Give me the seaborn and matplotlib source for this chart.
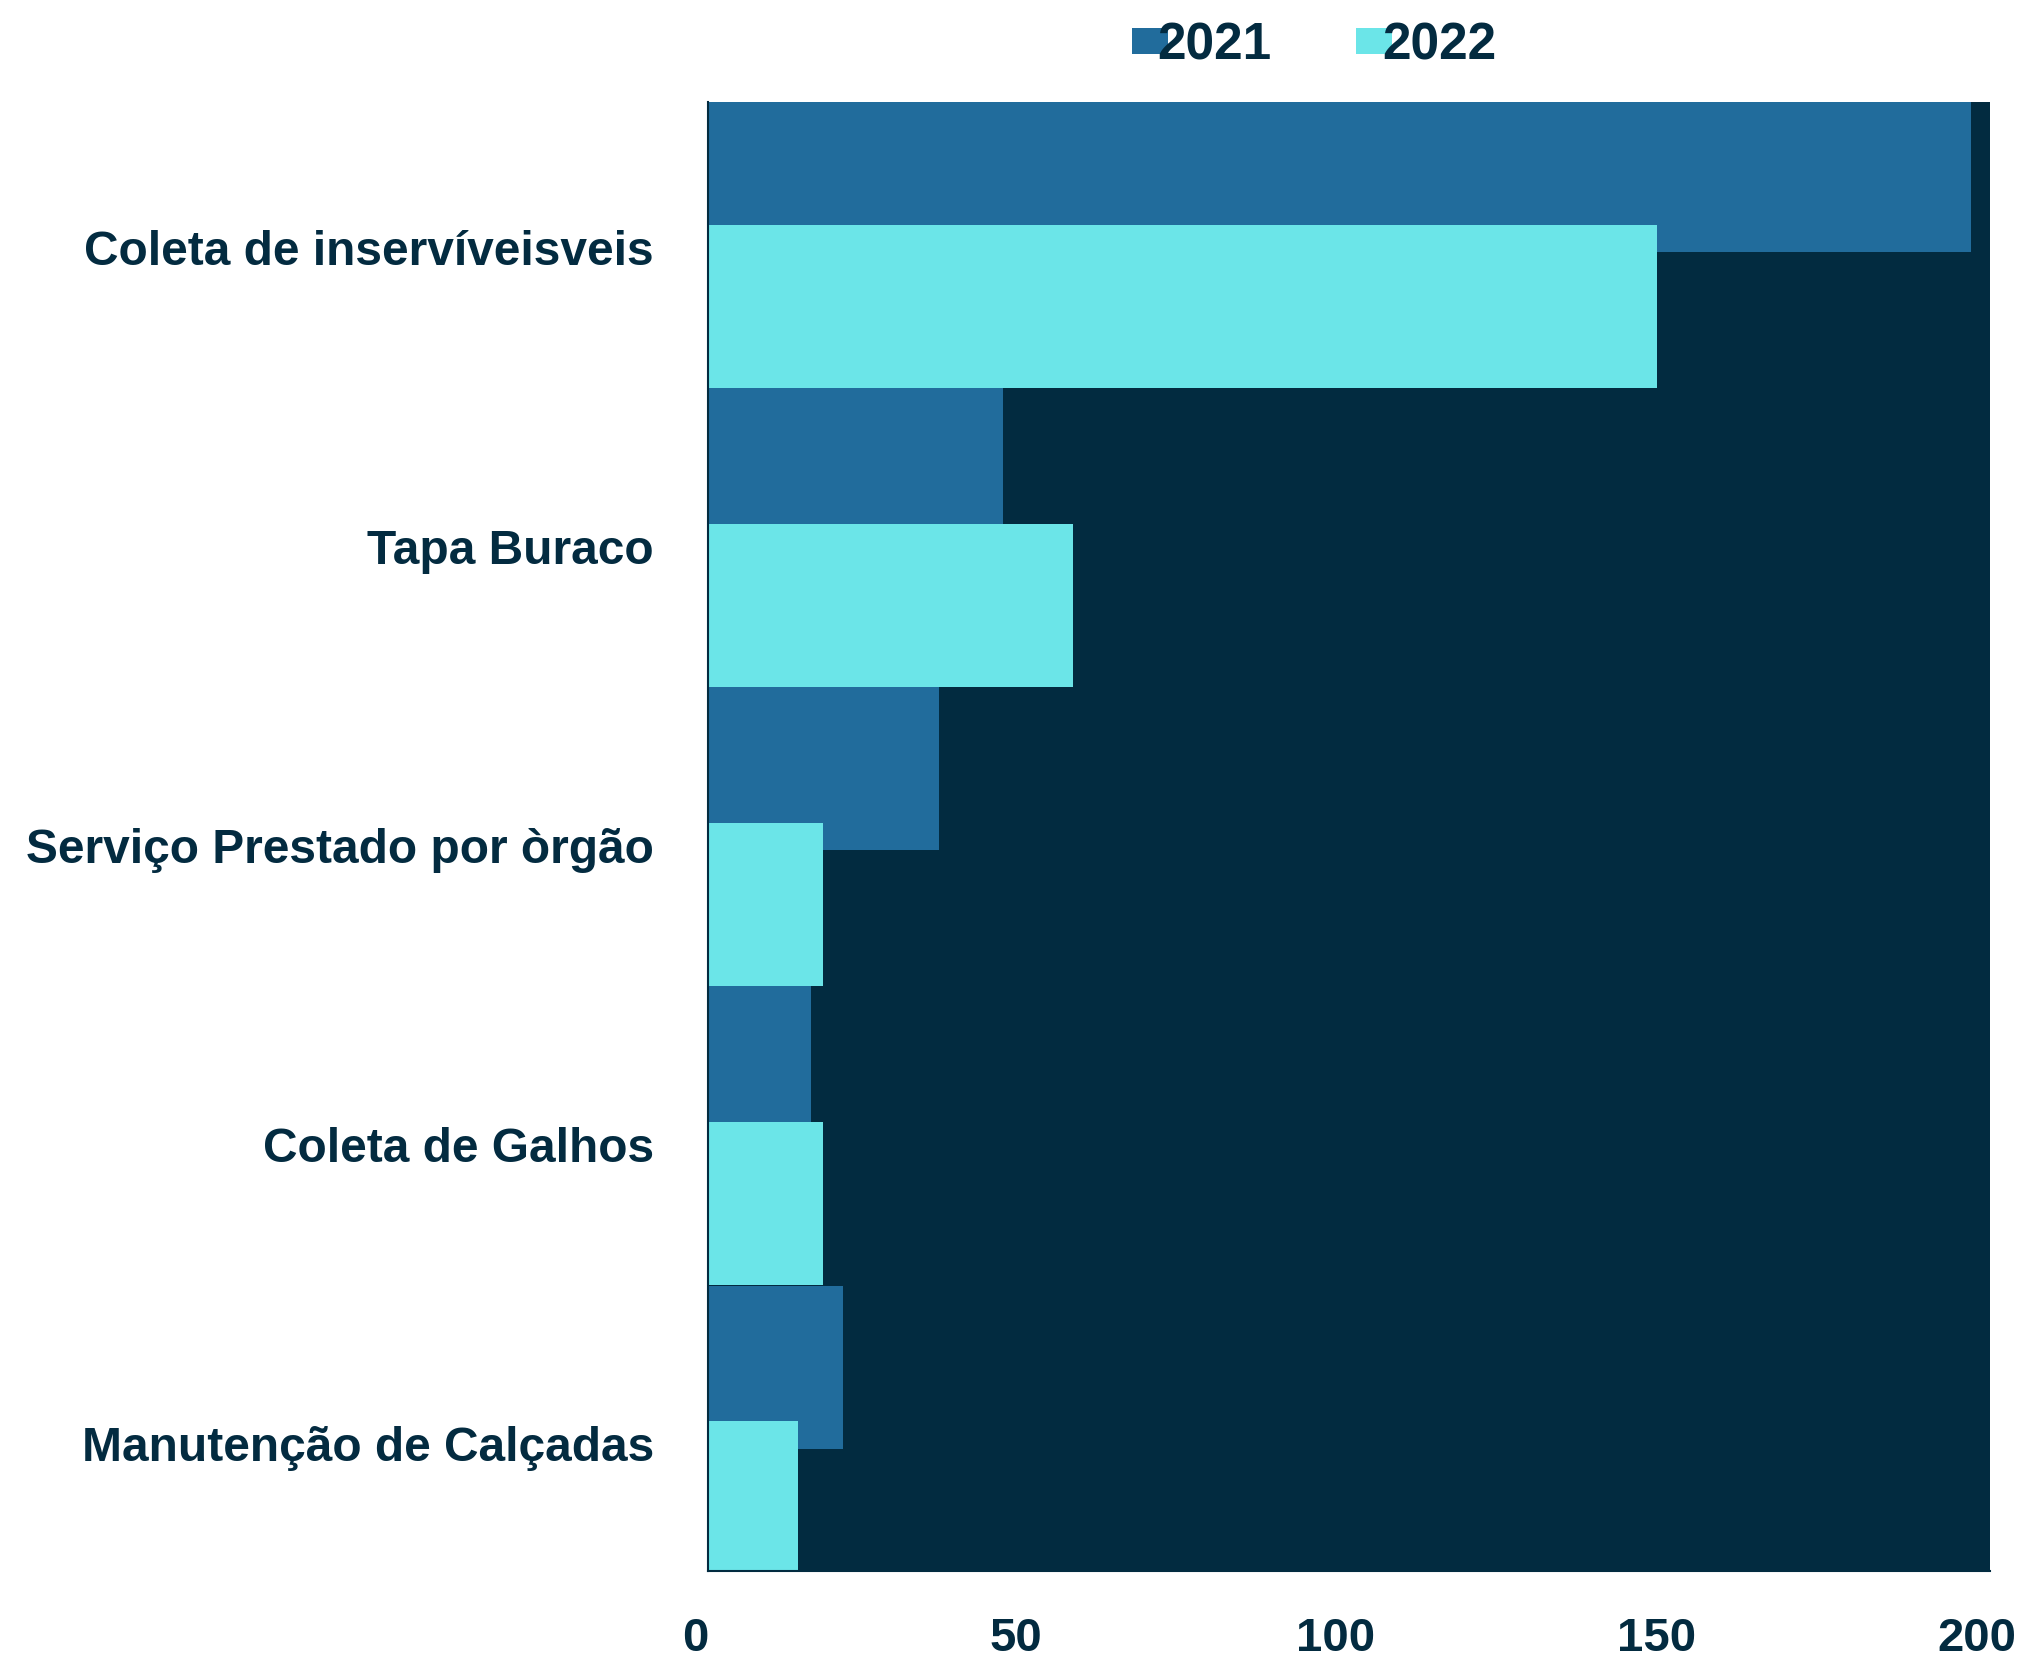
import matplotlib
matplotlib.use("Agg")
import matplotlib.pyplot as plt
import matplotlib.transforms as mtransforms
from matplotlib import font_manager
import seaborn as sns
import pandas as pd

categories = ["Coleta de inservíveisveis", "Tapa Buraco", "Serviço Prestado por òrgão",
              "Coleta de Galhos", "Manutenção de Calçadas"]
years = ["2021", "2022"]
values_2021 = [197, 46, 36, 16, 21]
values_2022 = [148, 57, 18, 18, 14]
x_ticks = [0, 50, 100, 150, 200]

BG = "#022B40"
C2021 = "#216C9C"
C2022 = "#6BE5E8"
TXT = "#032B40"

sns.set_theme(style="white")
plt.rcParams["font.family"] = ["Liberation Sans", "DejaVu Sans"]

names = {f.name for f in font_manager.fontManager.ttflist}
narrow = "Liberation Sans Narrow" if "Liberation Sans Narrow" in names else "Liberation Sans"

df = pd.DataFrame({
    "cat": categories * 2,
    "value": values_2021 + values_2022,
    "year": [years[0]] * len(categories) + [years[1]] * len(categories),
})

fig = plt.figure(figsize=(20.29, 16.60), dpi=100)
ax = fig.add_axes([708 / 2029, 1 - 1571 / 1660, (1990 - 708) / 2029, (1571 - 102) / 1660])
ax.set_facecolor(BG)

sns.barplot(data=df, y="cat", x="value", hue="year", orient="h", order=categories,
            hue_order=years, palette=[C2021, C2022], width=0.908, saturation=1,
            dodge=True, ax=ax, linewidth=0)

# enlarge bars so they overlap slightly, like the reference
for cont in ax.containers:
    for p in cont.patches:
        c = p.get_y() + p.get_height() / 2
        p.set_height(0.545)
        p.set_y(c - 0.2725)

handles, labels = ax.get_legend_handles_labels()
if ax.get_legend() is not None:
    ax.get_legend().remove()

ax.set_xlim(0, 200)
ax.set_ylim(4.455, -0.4565)
ax.set_xticks(x_ticks)
ax.set_xticklabels([str(t) for t in x_ticks])
ax.set_xlabel("")
ax.set_ylabel("")

for s in ["top", "right"]:
    ax.spines[s].set_visible(False)
for s in ["left", "bottom"]:
    ax.spines[s].set_visible(True)
    ax.spines[s].set_color(BG)
    ax.spines[s].set_linewidth(1.5)

ax.tick_params(axis="x", length=0, pad=33, labelsize=34, colors=TXT)
ax.tick_params(axis="y", length=0, pad=39, labelsize=34.5, colors=TXT)
for lab in ax.get_xticklabels():
    lab.set_fontfamily([narrow, "DejaVu Sans"])
    lab.set_fontweight("bold")
    lab.set_transform(lab.get_transform() + mtransforms.ScaledTranslation(-13 / 100, 0, fig.dpi_scale_trans))
for lab in ax.get_yticklabels():
    lab.set_fontweight("bold")
    lab.set_transform(lab.get_transform() + mtransforms.ScaledTranslation(0, -9 / 100, fig.dpi_scale_trans))

leg = fig.legend(handles, labels, loc="center", bbox_to_anchor=(1314 / 2029, 1 - 46 / 1660),
                 ncol=2, frameon=False, handlelength=0.7, handleheight=0.4,
                 handletextpad=-0.2, columnspacing=1.65,
                 prop={"family": "Liberation Sans", "weight": "bold", "size": 37})
for t in leg.get_texts():
    t.set_color(TXT)

fig.savefig("out.png", dpi=100)
